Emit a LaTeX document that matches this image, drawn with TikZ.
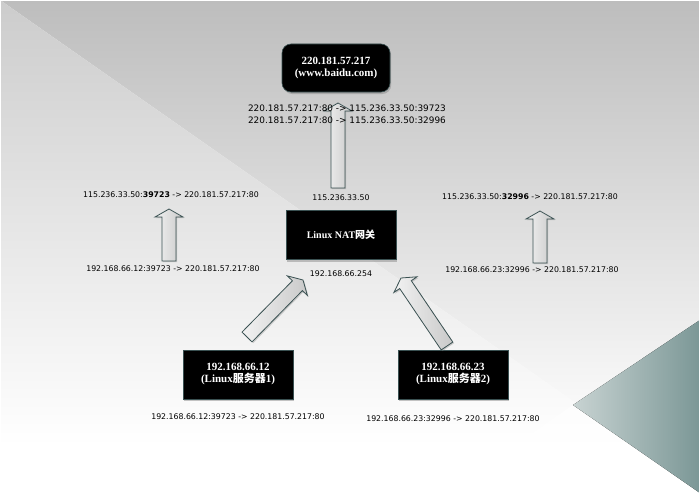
\documentclass[tikz,border=0pt]{standalone}
\usepackage{fontspec}
\setmainfont{Liberation Serif}
\newfontfamily\labfont{DejaVu Sans}
\newfontfamily\cjkfont{Noto Sans CJK SC}
\usetikzlibrary{calc,shadows}
\definecolor{edgec}{HTML}{3A5152}
\definecolor{bgtop}{HTML}{BDBDBD}
\definecolor{bgtopl}{HTML}{CCCCCC}
\definecolor{tealL}{HTML}{C8D3D2}
\definecolor{tealR}{HTML}{7B9796}
\definecolor{arrL}{HTML}{F2F2F2}
\definecolor{arrR}{HTML}{C9C9C9}
\pgfdeclareverticalshading{bgupper}{100bp}{color(0bp)=(white); color(30bp)=(white); color(75bp)=(bgtop); color(100bp)=(bgtop)}
\pgfdeclareverticalshading{bglower}{100bp}{color(0bp)=(white); color(30bp)=(white); color(75bp)=(bgtopl); color(100bp)=(bgtopl)}
\tikzset{
  box/.style={fill=black, draw=edgec, line width=0.6pt, text=white,
    align=center, font=\fontsize{11}{12}\selectfont\bfseries,
    minimum width=110pt, minimum height=49pt, inner sep=0pt,
    drop shadow={shadow xshift=1.2pt, shadow yshift=-2pt, opacity=0.45}},
  lab/.style={font=\labfont\fontsize{7.8}{9}\selectfont, inner sep=0pt},
  toplab/.style={font=\labfont\fontsize{8.9}{10}\selectfont, inner sep=0pt},
  blockarr/.style={draw=edgec, line width=0.8pt, line join=miter,
    left color=arrL, right color=arrR,
    drop shadow={shadow xshift=1.2pt, shadow yshift=-1.2pt, opacity=0.35}}
}
\newcommand{\blockarrow}[2]{%
  \coordinate (#1h) at ($(#2)!8pt!(#1)$);
  \draw[blockarr] ($(#1)!7pt!90:(#2)$) -- ($(#1h)!7pt!90:(#2)$) -- ($(#1h)!14pt!90:(#2)$)
    -- (#2) -- ($(#1h)!14pt!-90:(#2)$) -- ($(#1h)!7pt!-90:(#2)$) -- ($(#1)!7pt!-90:(#2)$) -- cycle;
}
\begin{document}
\begin{tikzpicture}[x=1pt, y=-1pt]
\useasboundingbox (0,0) rectangle (700,495);
% background
\fill[white] (0,0) rectangle (700,495);
\shade[shading=bgupper] (0,0) -- (700,0) -- (700,495) -- (707,495) -- cycle;
\shade[shading=bglower] (0,0) -- (707,495) -- (0,495) -- cycle;
\fill[white, opacity=0.6] (573,405) -- (444,495) -- (700,495) -- cycle;
\fill[left color=tealL, right color=tealR] (700,320) -- (573,405) -- (700,493) -- cycle;
\draw[white, line width=2pt] (0,0) rectangle (700,495);

% nodes
\node[box, rounded corners=9pt, minimum width=108pt, minimum height=48pt] (web) at (336,68)
  {220.181.57.217\\(www.baidu.com)};
\node[box, font=\fontsize{10}{12}\selectfont\bfseries] (nat) at (341,235)
  {Linux NAT{\cjkfont 网关}};
\node[box] (s1) at (238,374.5) {192.168.66.12\\(Linux{\cjkfont 服务器}1)};
\node[box] (s2) at (453,374.5) {192.168.66.23\\(Linux{\cjkfont 服务器}2)};

% arrow end points
\coordinate (ct) at (338,188);
\coordinate (cp) at (338,103);
\coordinate (lt) at (169,261);
\coordinate (lp) at (169,209);
\coordinate (rt) at (540,263);
\coordinate (rp) at (540,211);
\coordinate (dlt) at (247,337);
\coordinate (dlp) at (303,280);
\coordinate (drt) at (447,346);
\coordinate (drp) at (401,278);

\blockarrow{ct}{cp}
\blockarrow{lt}{lp}
\blockarrow{rt}{rp}
\blockarrow{dlt}{dlp}
\blockarrow{drt}{drp}

% labels
\node[toplab] (t1) at (347,108) {220.181.57.217:80 -> 115.236.33.50:39723};
\node[toplab] (t2) at (347,120) {220.181.57.217:80 -> 115.236.33.50:32996};
\node[lab] (natup) at (341,198) {115.236.33.50};
\node[lab] (natdn) at (341,274) {192.168.66.254};
\node[lab] (lu) at (171,195) {115.236.33.50:\textbf{39723} -> 220.181.57.217:80};
\node[lab] (ld) at (173,269) {192.168.66.12:39723 -> 220.181.57.217:80};
\node[lab] (ru) at (530,197) {115.236.33.50:\textbf{32996} -> 220.181.57.217:80};
\node[lab] (rd) at (532,270) {192.168.66.23:32996 -> 220.181.57.217:80};
\node[lab] (b1) at (238,417) {192.168.66.12:39723 -> 220.181.57.217:80};
\node[lab] (b2) at (453,419) {192.168.66.23:32996 -> 220.181.57.217:80};
\end{tikzpicture}
\end{document}
